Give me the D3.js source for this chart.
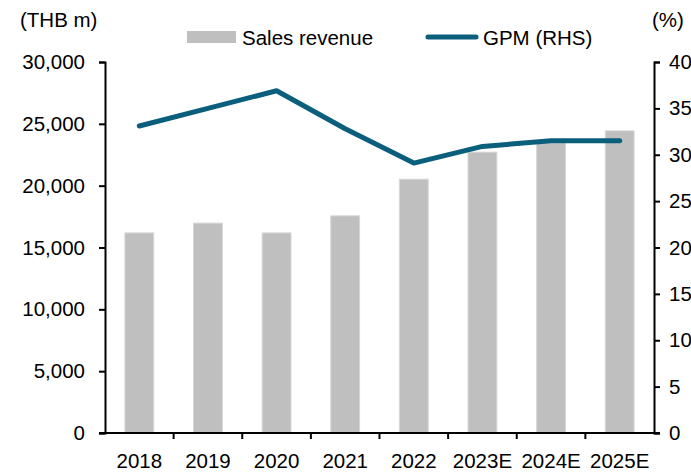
<!DOCTYPE html>
<html>
<head>
<meta charset="utf-8">
<script src="https://cdn.jsdelivr.net/npm/d3@7"></script>
<style>
  html, body { margin: 0; padding: 0; background: #fff; }
  svg text { font-family: "Liberation Sans", Arial, sans-serif; fill: #000; }
</style>
</head>
<body>
<svg id="chart" width="691" height="473"></svg>
<script>
const categories = ["2018", "2019", "2020", "2021", "2022", "2023E", "2024E", "2025E"];
const salesRevenue = [16180, 16970, 16180, 17560, 20520, 22710, 23450, 24430];
const gpm = [33.1, 35.0, 36.9, 32.8, 29.1, 30.9, 31.5, 31.5];
const leftTicks = [0, 5000, 10000, 15000, 20000, 25000, 30000];
const rightTicks = [0, 5, 10, 15, 20, 25, 30, 35, 40];

(function () {
const svg = d3.select("#chart");
const pLeft = 105, pRight = 654, pTop = 62, pBottom = 433;
const fontSize = 20.5;

const x = d3.scaleBand().domain(categories).range([pLeft, pRight]).paddingInner(0.58).paddingOuter(0.29);
const yL = d3.scaleLinear().domain([0, 30000]).range([pBottom, pTop]);
const yR = d3.scaleLinear().domain([0, 40]).range([pBottom, pTop]);

// bars
svg.append("g").selectAll("rect").data(categories).join("rect")
  .attr("x", d => x(d))
  .attr("width", x.bandwidth())
  .attr("y", (d, i) => yL(salesRevenue[i]))
  .attr("height", (d, i) => pBottom - yL(salesRevenue[i]))
  .attr("fill", "#bfbfbf")
  .attr("stroke", "#d6d6d6")
  .attr("stroke-width", 1);

// left axis
const axL = svg.append("g").attr("transform", `translate(${pLeft},0)`)
  .call(d3.axisLeft(yL).tickValues(leftTicks).tickSize(6).tickPadding(14).tickFormat(d3.format(",")));
// right axis
const axR = svg.append("g").attr("transform", `translate(${pRight},0)`)
  .call(d3.axisRight(yR).tickValues(rightTicks).tickSize(6).tickPadding(9).tickFormat(d3.format("d")));

// bottom axis (labels at centres, ticks at boundaries)
const axB = svg.append("g").attr("transform", `translate(0,${pBottom})`)
  .call(d3.axisBottom(x).tickSize(0).tickPadding(20));
axB.select(".domain").attr("d", `M${pLeft - 6},0H${pRight + 6}`);
const step = x.step();
const boundaries = categories.map(c => x(c) + x.bandwidth() / 2 - step / 2).slice(1);
axB.selectAll(".bt").data(boundaries).join("line").attr("class", "bt")
  .attr("x1", d => d).attr("x2", d => d).attr("y1", 0).attr("y2", 6)
  .attr("stroke", "#000").attr("stroke-width", 2);

[axL, axR, axB].forEach(a => {
  a.selectAll(".domain").attr("stroke", "#000").attr("stroke-width", 2);
  a.selectAll(".tick line").attr("stroke", "#000").attr("stroke-width", 2);
  a.selectAll("text").style("font-size", fontSize + "px").style("font-family", '"Liberation Sans", Arial, sans-serif');
});

// GPM line
const line = d3.line().x((d, i) => x(categories[i]) + x.bandwidth() / 2).y(d => yR(d));
svg.append("path").datum(gpm)
  .attr("d", line)
  .attr("fill", "none")
  .attr("stroke", "#0a5f7c")
  .attr("stroke-width", 5)
  .attr("stroke-linecap", "round")
  .attr("stroke-linejoin", "round");

// axis titles
svg.append("text").attr("x", 20).attr("y", 27).style("font-size", fontSize + "px").text("(THB m)");
svg.append("text").attr("x", 652).attr("y", 27).style("font-size", fontSize + "px").text("(%)");

// legend
const leg = svg.append("g");
leg.append("rect").attr("x", 187).attr("y", 31).attr("width", 49).attr("height", 12).attr("fill", "#bfbfbf");
leg.append("text").attr("x", 242).attr("y", 44.5).style("font-size", fontSize + "px").text("Sales revenue");
leg.append("line").attr("x1", 428).attr("x2", 476).attr("y1", 37).attr("y2", 37)
  .attr("stroke", "#0a5f7c").attr("stroke-width", 5).attr("stroke-linecap", "round");
leg.append("text").attr("x", 483).attr("y", 44.5).style("font-size", fontSize + "px").text("GPM (RHS)");
})();
</script>
</body>
</html>
